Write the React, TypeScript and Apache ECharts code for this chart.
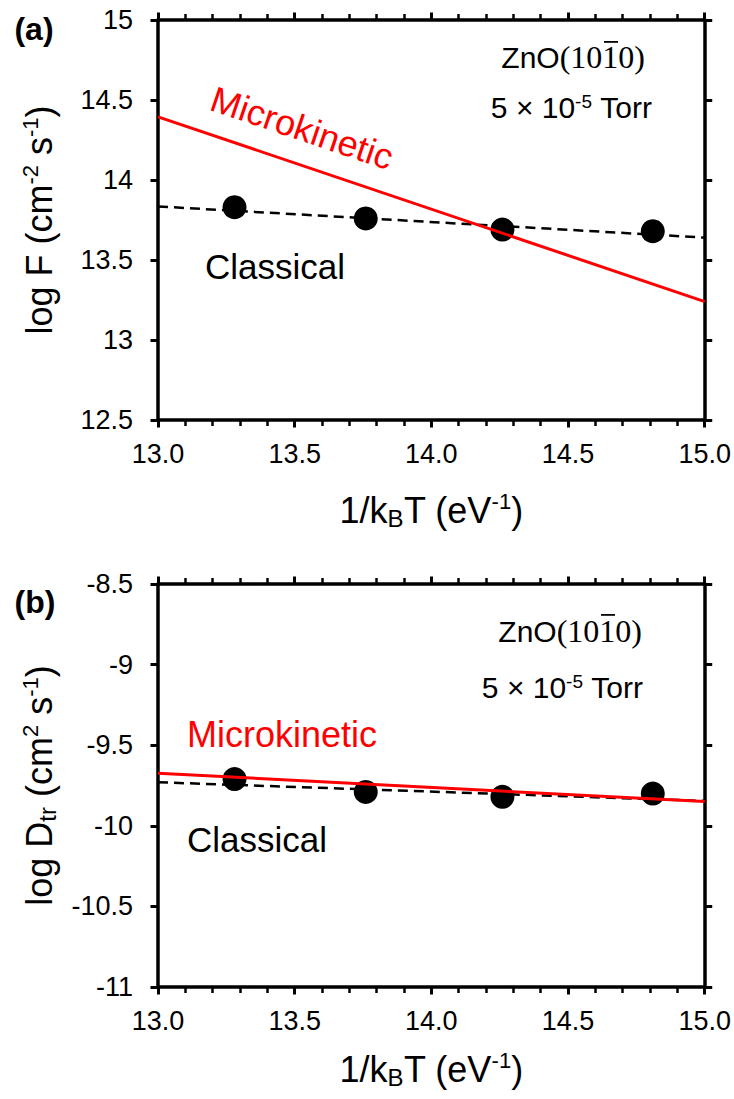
import React, { useEffect, useRef } from 'react';
import * as echarts from 'echarts';

// ---- data ----
const invKT = [13.28, 13.76, 14.26, 14.81];          // 1/kBT (eV^-1)
const logFlux = [13.83, 13.76, 13.69, 13.68];        // panel (a) classical points
const logDtr = [-9.71, -9.79, -9.82, -9.8];          // panel (b) classical points
const fitX = [13, 15];
const fluxClassicalFit = [13.835, 13.64];
const fluxMicroFit = [14.395, 13.24];
const dtrClassicalFit = [-9.73, -9.846];
const dtrMicroFit = [-9.674, -9.85];
const xRange = [13, 15];
const fluxRange = [12.5, 15];
const dtrRange = [-11, -8.5];

const FONT = '"Liberation Sans", Arial, sans-serif';
const SERIF = '"Liberation Serif", "Times New Roman", serif';

const mkAxisLine = () => ({ show: true, onZero: false, lineStyle: { color: '#000', width: 3.5 } });
const mkTick = () => ({ show: true, length: 7.5, lineStyle: { color: '#000', width: 3 } });
const mkMinor = () => ({ show: true, splitNumber: 5, length: 6, lineStyle: { color: '#000', width: 2.5 } });

const mkTitleRich = () => ({
  m: { fontSize: 36, lineHeight: 40, fontFamily: FONT, color: '#000', verticalAlign: 'middle' },
  sup: { fontSize: 22, lineHeight: 22, fontFamily: FONT, color: '#000', verticalAlign: 'top' },
  sub: { fontSize: 24, lineHeight: 24, fontFamily: FONT, color: '#000', verticalAlign: 'bottom' },
});

function xAxes(gridIndex: number, gap: number) {
  return [
    {
      type: 'value', gridIndex, position: 'bottom', min: xRange[0], max: xRange[1], interval: 0.5,
      axisLine: mkAxisLine(), axisTick: mkTick(), minorTick: mkMinor(),
      splitLine: { show: false }, minorSplitLine: { show: false },
      axisLabel: { fontSize: 27, color: '#000', fontFamily: FONT, margin: 20, formatter: (v: number) => v.toFixed(1) },
      name: '{m|1/k}{sub|B}{m|T (eV}{sup|-1}{m|)}', nameLocation: 'middle', nameGap: gap,
      nameTextStyle: { rich: mkTitleRich() },
    },
    {
      type: 'value', gridIndex, position: 'top', min: xRange[0], max: xRange[1], interval: 0.5,
      axisLine: mkAxisLine(), axisTick: mkTick(), minorTick: mkMinor(),
      splitLine: { show: false }, minorSplitLine: { show: false }, axisLabel: { show: false },
    },
  ];
}

function yAxes(gridIndex: number, range: number[], name: string) {
  return [
    {
      type: 'value', gridIndex, position: 'left', min: range[0], max: range[1], interval: 0.5,
      axisLine: mkAxisLine(), axisTick: mkTick(), splitLine: { show: false },
      axisLabel: { fontSize: 27, color: '#000', fontFamily: FONT, margin: 25 },
      name, nameLocation: 'middle', nameRotate: 90, nameGap: 99,
      nameTextStyle: { rich: mkTitleRich() },
    },
    {
      type: 'value', gridIndex, position: 'right', min: range[0], max: range[1], interval: 0.5,
      axisLine: mkAxisLine(), axisTick: mkTick(), splitLine: { show: false }, axisLabel: { show: false },
    },
  ];
}

function seriesFor(i: number, pts: number[], classical: number[], micro: number[]) {
  return [
    {
      type: 'line', xAxisIndex: i * 2, yAxisIndex: i * 2, symbol: 'none', z: 2,
      data: fitX.map((x, k) => [x, classical[k]]),
      lineStyle: { color: '#000', width: 2.5, type: [10, 6] },
    },
    {
      type: 'scatter', xAxisIndex: i * 2, yAxisIndex: i * 2, symbolSize: 24, z: 3,
      data: invKT.map((x, k) => [x, pts[k]]),
      itemStyle: { color: '#000', opacity: 1 },
    },
    {
      type: 'line', xAxisIndex: i * 2, yAxisIndex: i * 2, symbol: 'none', z: 4,
      data: fitX.map((x, k) => [x, micro[k]]),
      lineStyle: { color: '#ff0000', width: 3 },
    },
  ];
}

function txt(x: number, y: number, text: string, opts: any = {}) {
  return {
    type: 'text', x, y, rotation: opts.rotation || 0, z: 10,
    style: {
      text, fill: opts.fill || '#000', fontSize: opts.fontSize || 35, fontFamily: FONT,
      fontWeight: opts.fontWeight || 'normal', align: opts.align || 'center', verticalAlign: 'middle',
      rich: opts.rich,
    },
  };
}

const labelRich = {
  s: { fontSize: 30, fontFamily: FONT, fill: '#000', lineHeight: 34, verticalAlign: 'middle' },
  r: { fontSize: 32, fontFamily: SERIF, fill: '#000', lineHeight: 34, verticalAlign: 'middle' },
  n: { fontSize: 30, fontFamily: FONT, fill: '#000', lineHeight: 30, verticalAlign: 'middle' },
  sup: { fontSize: 19, fontFamily: FONT, fill: '#000', lineHeight: 19, verticalAlign: 'top' },
};

export default function App() {
  const ref = useRef<HTMLDivElement>(null);
  useEffect(() => {
    if (!ref.current) return;
    const chart = echarts.init(ref.current, null, { renderer: 'svg' });
    chart.setOption({
      animation: false,
      backgroundColor: '#fff',
      grid: [
        { left: 158, top: 20, width: 547, height: 400 },
        { left: 158, top: 584, width: 547, height: 403 },
      ],
      xAxis: [...xAxes(0, 70), ...xAxes(1, 62)],
      yAxis: [
        ...yAxes(0, fluxRange, '{m|log F (cm}{sup|-2}{m| s}{sup|-1}{m|)}'),
        ...yAxes(1, dtrRange, '{m|log D}{sub|tr}{m| (cm}{sup|2}{m| s}{sup|-1}{m|)}'),
      ],
      series: [
        ...seriesFor(0, logFlux, fluxClassicalFit, fluxMicroFit),
        ...seriesFor(1, logDtr, dtrClassicalFit, dtrMicroFit),
      ],
      graphic: [
        txt(34, 29, '(a)', { fontSize: 32, fontWeight: 'bold' }),
        txt(35, 602, '(b)', { fontSize: 32, fontWeight: 'bold' }),
        txt(302, 128, 'Microkinetic', { fill: '#ff0000', rotation: -0.326, fontSize: 36 }),
        txt(275, 266, 'Classical'),
        txt(187, 734, 'Microkinetic', { fill: '#ff0000', align: 'left', fontSize: 36 }),
        txt(257, 839, 'Classical'),
        txt(645, 57, '{s|ZnO}{r|(1010)}', { align: 'right', rich: labelRich }),
        txt(652, 107, '{n|5 × 10}{sup|-5}{n| Torr}', { align: 'right', rich: labelRich }),
        txt(642, 631, '{s|ZnO}{r|(1010)}', { align: 'right', rich: labelRich }),
        txt(643, 687, '{n|5 × 10}{sup|-5}{n| Torr}', { align: 'right', rich: labelRich }),
        { type: 'rect', shape: { x: 604, y: 41, width: 14, height: 1.8 }, style: { fill: '#000' }, z: 10 },
        { type: 'rect', shape: { x: 601, y: 614, width: 14, height: 1.8 }, style: { fill: '#000' }, z: 10 },
      ],
    });
    return () => chart.dispose();
  }, []);
  return <div ref={ref} style={{ position: 'absolute', left: 0, top: 0, width: 734, height: 1099 }} />;
}
